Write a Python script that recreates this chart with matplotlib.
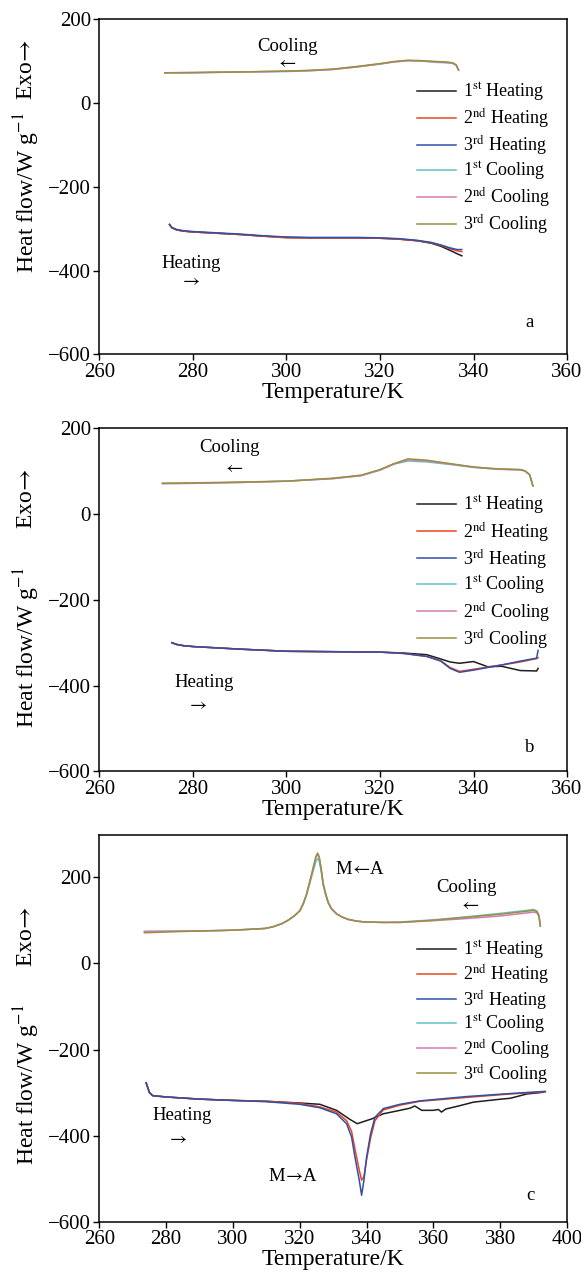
import matplotlib
matplotlib.use('Agg')
import matplotlib.pyplot as plt

plt.rcParams['font.family'] = ['Liberation Serif', 'DejaVu Serif']
plt.rcParams['mathtext.fontset'] = 'stix'

labels = ["1$^{\\mathrm{st}}$ Heating", "2$^{\\mathrm{nd}}$ Heating", "3$^{\\mathrm{rd}}$ Heating",
          "1$^{\\mathrm{st}}$ Cooling", "2$^{\\mathrm{nd}}$ Cooling", "3$^{\\mathrm{rd}}$ Cooling"]
colors = ["#1e1e1e", "#ee4422", "#3050a8", "#62c2c4", "#d27cb4", "#9a9040"]

# panel a: heated to ~337 K
a_heat_T = [275, 275.5, 276.5, 278, 280, 285, 290, 295, 300, 305, 310, 315, 320, 324, 328, 331, 333, 335, 336.5, 337.5]
a_heat1 = [-290, -298, -303, -306, -308, -311, -314, -318, -321, -322, -322, -322, -323, -325, -329, -335, -342, -352, -360, -365]
a_heat2 = [-291, -298, -303, -306, -308, -311, -314, -318, -322, -322, -322, -322, -323, -325, -329, -334, -340, -348, -353, -355]
a_heat3 = [-290, -297, -302, -305, -307, -310, -313, -317, -320, -321, -321, -321, -322, -324, -328, -333, -339, -346, -350, -350]
a_cool_T = [274, 280, 290, 300, 305, 310, 315, 320, 323, 326, 329, 332, 334, 335.5, 336.3, 336.8]
a_cool1 = [72, 72, 74, 75, 77, 80, 86, 93, 98, 101, 100, 97, 96, 95, 90, 78]
a_cool2 = [72, 72, 74, 76, 77, 80, 86, 93, 98, 101, 100, 98, 97, 95, 90, 78]
a_cool3 = [72, 73, 74, 76, 78, 81, 87, 94, 99, 102, 101, 99, 98, 96, 91, 79]

# panel b: heated to ~354 K
b_heat_T = [275.5, 276.5, 278, 280, 290, 300, 310, 320, 325, 330, 333, 335, 337, 340, 343, 346, 350, 353.5, 353.8]
b_heat1 = [-300, -304, -307, -309, -315, -320, -321, -322, -324, -328, -338, -345, -348, -344, -356, -355, -365, -366, -360]
b_heat2 = [-300, -304, -307, -309, -315, -320, -321, -322, -325, -332, -342, -358, -367, -362, -357, -352, -345, -337, -335]
b_heat3 = [-300, -304, -307, -309, -315, -320, -321, -322, -325, -332, -343, -360, -369, -364, -358, -352, -343, -336, -318]
b_cool_T = [273.5, 280, 290, 300, 310, 316, 320, 323, 326, 330, 335, 340, 345, 350, 351, 352, 352.7]
b_cool1 = [72, 72, 74, 77, 83, 90, 103, 117, 124, 122, 116, 109, 105, 104, 101, 92, 66]
b_cool2 = [71, 72, 74, 77, 83, 90, 103, 117, 127, 124, 117, 110, 105, 103, 101, 92, 66]
b_cool3 = [72, 73, 75, 77, 84, 91, 104, 118, 129, 126, 118, 110, 106, 104, 101, 92, 66]

# panel c: heated to ~394 K, full transformation
c_heat_T = [274, 275, 276, 280, 290, 300, 310, 320, 326, 331, 334, 335.5, 336.5, 337.8, 338.5, 339.2, 340.0, 341.2,
            342.5, 345, 350, 356, 370, 383, 393.5]
c_heat2 = [-277, -300, -307, -310, -315, -318, -320, -325, -333, -345, -365, -390, -430, -480, -503, -495, -455, -405,
           -365, -340, -329, -320, -311, -303, -298]
c_heat3 = [-277, -300, -307, -310, -315, -318, -321, -327, -335, -349, -372, -403, -449, -503, -538, -503, -449, -395,
           -357, -337, -327, -319, -309, -302, -297]
c_heat1_T = [274, 275, 276, 280, 290, 300, 310, 320, 326, 331, 335, 337.2, 339.5, 341.5, 345, 350, 353, 354.4, 355.5,
             356.5, 360, 361.5, 362.4, 363.7, 368, 372, 379, 383, 388, 393]
c_heat1 = [-277, -300, -307, -310, -315, -318, -320, -324, -327, -341, -362, -372, -366, -361, -349, -341, -336, -331,
           -336, -341, -341, -339, -345, -338, -330, -322, -316, -313, -303, -299]
c_cool_T = [273.5, 285, 295, 300, 305, 309.6, 312, 314.6, 316.5, 318.5, 320, 321, 322, 323, 324, 324.8, 325.3, 325.8,
            326.4, 327, 327.8, 328.5, 329.5, 331, 332.5, 334.5, 337, 339.5, 345, 350, 360, 370, 380, 388, 390, 391,
            391.6, 392]
c_cool1 = [74, 75, 76, 77, 79, 81, 85, 92, 100, 111, 122, 137, 158, 186, 214, 236, 243, 238, 214, 182, 157, 140, 126, 115,
           108, 102, 98, 96, 95, 96, 101, 108, 116, 123, 125, 121, 111, 88]
c_cool2 = [74, 75, 76, 77, 79, 81, 85, 92, 100, 111, 122, 138, 160, 190, 220, 245, 253, 246, 218, 184, 159, 141, 126, 115,
           108, 102, 98, 96, 95, 95, 99, 104, 110, 117, 119, 117, 108, 86]
c_cool3 = [71, 74, 76, 77, 79, 81, 85, 92, 100, 111, 122, 138, 160, 190, 222, 248, 256, 248, 220, 185, 160, 142, 127, 115,
           108, 102, 98, 96, 95, 95, 100, 107, 114, 121, 123, 120, 110, 87]

LARR, RARR = "$\\leftarrow$", "$\\rightarrow$"

panels = [
    dict(rect=[0.171, 0.723, 0.805, 0.262], xlim=(260, 360), ylim=(-600, 200),
         heat=[(a_heat_T, a_heat1), (a_heat_T, a_heat2), (a_heat_T, a_heat3)],
         cool=[(a_cool_T, a_cool1), (a_cool_T, a_cool2), (a_cool_T, a_cool3)],
         notes=[("Cooling", 300.3, 135), (LARR, 300.0, 94), ("Heating", 279.7, -384),
                (RARR, 279.4, -425), ("a", 352, -523)],
         leg=0.815, spacing=0.17, ylab=(0.242, 0.758)),
    dict(rect=[0.171, 0.397, 0.805, 0.268], xlim=(260, 360), ylim=(-600, 200),
         heat=[(b_heat_T, b_heat1), (b_heat_T, b_heat2), (b_heat_T, b_heat3)],
         cool=[(b_cool_T, b_cool1), (b_cool_T, b_cool2), (b_cool_T, b_cool3)],
         notes=[("Cooling", 287.9, 155), (LARR, 288.6, 106), ("Heating", 282.5, -394),
                (RARR, 281.0, -446), ("b", 352, -544)],
         leg=0.808, spacing=0.19, ylab=(0.125, 0.708)),
    dict(rect=[0.171, 0.0446, 0.805, 0.3026], xlim=(260, 400), ylim=(-600, 298),
         heat=[(c_heat1_T, c_heat1), (c_heat_T, c_heat2), (c_heat_T, c_heat3)],
         cool=[(c_cool_T, c_cool1), (c_cool_T, c_cool2), (c_cool_T, c_cool3)],
         notes=[("M$\\!\\leftarrow\\!$A", 338.0, 218), ("Cooling", 370, 176), (LARR, 370.8, 134),
                ("Heating", 284.9, -354), (RARR, 283.3, -409), ("M$\\!\\rightarrow\\!$A", 318, -494),
                ("c", 389, -538)],
         leg=0.731, spacing=0.08, ylab=(0.147, 0.659)),
]

fig = plt.figure(figsize=(5.81, 12.79), dpi=100)

for p in panels:
    ax = fig.add_axes(p['rect'])
    curves = p['heat'] + p['cool']
    for (t, v), c, lab in zip(curves, colors, labels):
        ax.plot(t, v, color=c, lw=1.1, label=lab)
    ax.set_xlim(*p['xlim'])
    ax.set_ylim(*p['ylim'])
    ax.set_yticks([-600, -400, -200, 0, 200])
    ax.set_xticks(range(p['xlim'][0], p['xlim'][1] + 1, 20))
    ax.tick_params(direction='out', length=4, width=1, labelsize=15, pad=2)
    for s in ax.spines.values():
        s.set_linewidth(1.1)
    ax.set_xlabel("Temperature/K", fontsize=17, labelpad=0)
    for txt, x, y in p['notes']:
        ax.text(x, y, txt, fontsize=13.5, ha='center', va='center')
    ax.text(-0.155, p['ylab'][0], "Heat flow/W g$^{-1}$", transform=ax.transAxes,
            rotation=90, ha='center', va='bottom', fontsize=17)
    ax.text(-0.155, p['ylab'][1], "Exo$\\!\\rightarrow$", transform=ax.transAxes,
            rotation=90, ha='center', va='bottom', fontsize=17)
    ax.legend(loc='upper left', bbox_to_anchor=(0.679, p['leg']), frameon=False,
              fontsize=13, borderpad=0, borderaxespad=0, handlelength=2.15,
              handletextpad=0.38, labelspacing=p['spacing'])

fig.savefig("out.png", dpi=100)
